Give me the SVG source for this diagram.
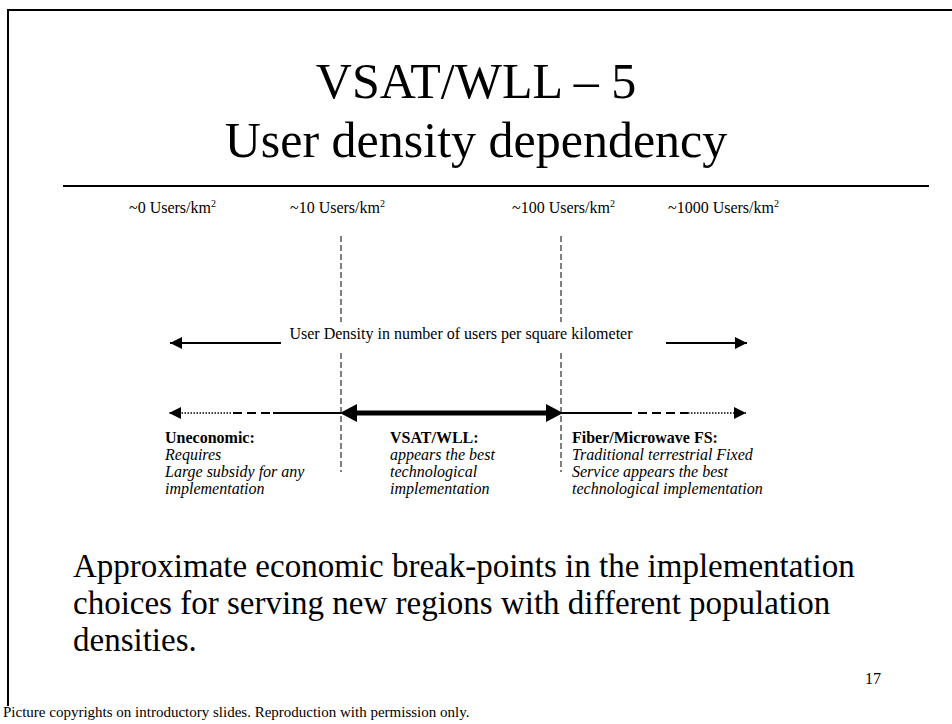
<svg xmlns="http://www.w3.org/2000/svg" width="952" height="724" viewBox="0 0 952 724">
<defs>
<style>
text{font-family:"Liberation Serif","Times New Roman",serif;fill:#000}
.t{font-size:50px;text-anchor:middle}
.s{font-size:16px}
.b{font-weight:bold}
.i{font-style:italic}
.p{font-size:33px}
.vd{stroke:#000;stroke-width:1;stroke-dasharray:6,3;fill:none}
.ln{stroke:#000;fill:none}
</style>
<marker id="ah" viewBox="0 0 10 10" refX="10" refY="5" markerWidth="13" markerHeight="12" markerUnits="userSpaceOnUse" orient="auto"><path d="M0,0L10,5L0,10z" fill="#000"/></marker>
</defs>
<rect width="952" height="724" fill="#fff"/>
<g id="frame">
<line x1="8" y1="10" x2="952" y2="10" stroke="#000" stroke-width="2"/>
<line x1="8" y1="9" x2="8" y2="706" stroke="#000" stroke-width="2"/>
<line x1="63" y1="186" x2="929" y2="186" stroke="#000" stroke-width="2"/>
</g>
<g id="title">
<text class="t" x="476" y="98">VSAT/WLL – 5</text>
<text class="t" x="476" y="157">User density dependency</text>
</g>
<g id="scale-labels">
<text class="s" x="129" y="213">~0 Users/km<tspan font-size="10" dy="-6">2</tspan></text>
<text class="s" x="290" y="213">~10 Users/km<tspan font-size="10" dy="-6">2</tspan></text>
<text class="s" x="512" y="213">~100 Users/km<tspan font-size="10" dy="-6">2</tspan></text>
<text class="s" x="668" y="213">~1000 Users/km<tspan font-size="10" dy="-6">2</tspan></text>
</g>
<g id="connectors">
<line class="vd" x1="341" y1="236" x2="341" y2="472"/>
<line class="vd" x1="561" y1="236" x2="561" y2="472"/>
<rect x="281" y="322" width="384" height="31" fill="#fff"/>
<line class="ln" x1="281" y1="343" x2="170" y2="343" stroke-width="2" marker-end="url(#ah)"/>
<line class="ln" x1="666" y1="343" x2="747" y2="343" stroke-width="2" marker-end="url(#ah)"/>
<line class="ln" x1="341" y1="413" x2="273" y2="413" stroke-width="2"/>
<line class="ln" x1="270" y1="413" x2="232" y2="413" stroke-width="2" stroke-dasharray="9,5"/>
<line class="ln" x1="231" y1="413" x2="169" y2="413" stroke-width="1.5" stroke-dasharray="1.5,1.5" marker-end="url(#ah)"/>
<line class="ln" x1="561" y1="413" x2="632" y2="413" stroke-width="2"/>
<line class="ln" x1="638" y1="413" x2="688" y2="413" stroke-width="2" stroke-dasharray="9,5"/>
<line class="ln" x1="688" y1="413" x2="746" y2="413" stroke-width="1.5" stroke-dasharray="1.5,1.5" marker-end="url(#ah)"/>
<line class="ln" x1="350" y1="413" x2="552" y2="413" stroke-width="5"/>
<path d="M340,413L357,404L357,422z M563,413L546,404L546,422z" fill="#000"/>
</g>
<g id="axis-label">
<text class="s" x="461" y="339" text-anchor="middle">User Density in number of users per square kilometer</text>
</g>
<g id="uneconomic">
<text class="s b" x="165" y="443">Uneconomic:</text>
<text class="s i" x="165" y="460">Requires</text>
<text class="s i" x="165" y="477">Large subsidy for any</text>
<text class="s i" x="165" y="494">implementation</text>
</g>
<g id="vsat">
<text class="s b" x="390" y="443">VSAT/WLL:</text>
<text class="s i" x="390" y="460">appears the best</text>
<text class="s i" x="390" y="477">technological</text>
<text class="s i" x="390" y="494">implementation</text>
</g>
<g id="fiber">
<text class="s b" x="572" y="443">Fiber/Microwave FS:</text>
<text class="s i" x="572" y="460">Traditional terrestrial Fixed</text>
<text class="s i" x="572" y="477">Service appears the best</text>
<text class="s i" x="572" y="494">technological implementation</text>
</g>
<g id="caption">
<text class="p" x="73" y="577">Approximate economic break-points in the implementation</text>
<text class="p" x="73" y="614">choices for serving new regions with different population</text>
<text class="p" x="73" y="651">densities.</text>
</g>
<text x="865" y="684" font-size="16">17</text>
<text x="3" y="717" font-size="15">Picture copyrights on introductory slides. Reproduction with permission only.</text>
</svg>
